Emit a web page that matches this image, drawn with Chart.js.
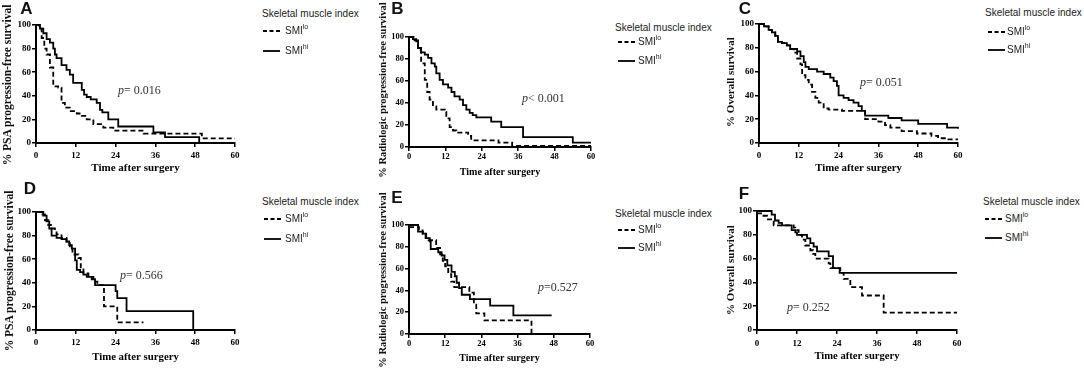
<!DOCTYPE html>
<html><head><meta charset="utf-8">
<script src="https://cdn.jsdelivr.net/npm/chart.js@4/dist/chart.umd.min.js"></script>
<style>
html,body{margin:0;padding:0;background:#fff;width:1084px;height:368px;overflow:hidden;position:relative;}
canvas{position:absolute;}
.t{position:absolute;white-space:nowrap;line-height:1;}
.letter{font:bold 17px "Liberation Sans",Arial,sans-serif;color:#111;transform:translate(-50%,-50%);}
.ytitle{font-family:"Liberation Serif","Times New Roman",serif;font-weight:bold;color:#111;transform:translate(-50%,-50%) rotate(-90deg);}
.pval{font:12px "Liberation Serif","Times New Roman",serif;color:#333;transform:translateY(-50%);}
.lg{font:10px "Liberation Sans",Arial,sans-serif;color:#222;transform:translateY(-50%);}
.lg sup{font-size:7px;vertical-align:5px;line-height:0;}
svg{position:absolute;overflow:visible;}
</style></head>
<body>
<script>
// ---- data ----
const xTicks = [0, 12, 24, 36, 48, 60];
const yTicks = [0, 20, 40, 60, 80, 100];
const xTitle = 'Time after surgery';
const legendTitle = 'Skeletal muscle index';
const groupLabels = ['lo', 'hi'];
const panelLetters = ['A', 'B', 'C', 'D', 'E', 'F'];
const yTitles = ['% PSA progression-free survival', '% Radiologic progression-free survival', '% Overall survival',
                 '% PSA progression-free survival', '% Radiologic progression-free survival', '% Overall survival'];
const pTexts = ['= 0.016', '< 0.001', '= 0.051', '= 0.566', '=0.527', '= 0.252'];

// Kaplan-Meier steps: [time (months), survival %]
const aLo = [[0,100],[1,97],[1.7,89],[2.5,80],[3.2,75],[4.2,64],[5.2,48],[6.7,47],[7.7,34],[8.7,30],[10.2,27],[12.3,25],[13.8,23],[15.3,20],[17.3,16],[20.3,13],[23.3,10.5],[32.4,8],[50,4],[60,4]];
const aHi = [[0,100],[1.2,97],[2.2,93],[3.2,88],[4.2,85],[5.2,80],[5.7,75],[6.2,72],[7.7,66],[9.2,62],[10.2,58],[11.2,51],[13.8,45],[14.5,41],[15.3,39],[16.5,37],[18.3,34],[19.3,28],[20,26],[21.8,20],[24.8,14],[35.4,9],[38.9,5],[49.2,0]];
const bLo = [[0,100],[1.5,97],[3,88],[4,76],[5.2,61],[6,50],[6.8,43],[7.9,37],[9,34],[11.8,32],[12.3,26],[13.4,18],[14.5,15],[15.6,13],[19.5,10],[20.5,6],[29.5,4],[34,1],[60,1]];
const bHi = [[0,100],[1.3,98],[2.4,96],[3,90],[4,86],[5.2,84],[6.3,81],[7.4,76],[8.5,73],[9,67],[10.1,61],[11.2,57],[12.9,54],[14,50],[15,46],[16.7,43],[17.8,38],[18.9,34],[20,31],[21,29],[22.2,27],[27.1,23],[30.4,18],[37.6,9],[54,4],[60,4]];
const cLo = [[0,100],[1.5,98],[2.9,95],[3.9,93],[4.9,90],[5.7,85],[6.9,84],[8.4,82],[9.4,79],[10.5,76],[11.5,71],[12.5,66],[13,57],[14,53],[15,49],[16,43],[17,38],[18,34],[19.5,29],[21,28],[25,27],[32,20],[36,18],[38,15],[39.6,13],[43,10],[47.6,8],[52,6],[54,4],[56.7,3],[60,3]];
const cHi = [[0,100],[1.5,98],[2.9,95],[3.9,93],[4.9,90],[5.7,85],[6.9,84],[8.4,82],[9.4,79],[11.5,77],[12.5,73],[13.5,68],[14,64],[15,62],[17.5,60],[19.5,58],[21.5,55],[22.5,52],[23.5,48],[24,40],[25.5,38],[27,36],[28.5,34],[30,31],[31,27],[32,23],[39,21],[43,19],[48,16],[56.7,13],[60,12]];
const dLo = [[0,100],[1.2,98],[2.7,93],[3.7,89],[4.5,86],[5.7,84],[6.2,81],[7.7,78],[9.2,75],[10.2,69],[11,64],[12.8,61],[13.5,53],[14.3,48],[15.8,45],[17.3,41],[18.5,38],[20.5,20],[24.5,6.5],[32.4,6.5]];
const dHi = [[0,100],[2.2,97],[3.2,92],[4,86],[4.7,80],[6.2,78],[7.7,77],[9.2,75],[10,72],[10.8,69],[11.8,59],[12.3,51],[13.3,49],[14.3,47],[15.3,45],[16.8,43],[17.8,38],[24,33],[24.5,27],[27.3,16],[47.4,0]];
const eLo = [[0,98],[3.3,96],[4.5,91],[5.5,88],[6.5,86],[9,79],[10.3,73],[11.2,67],[12,62],[13,55],[14,48],[15,43],[20,38],[21.5,27],[22.3,19],[25,12.5],[40.6,0]];
const eHi = [[0,100],[3,94],[4.6,92],[5.7,88],[6.9,85],[7.2,78],[9.7,75],[10.8,72],[11.8,68],[12.7,63],[14.1,57],[15.2,53],[15.8,47],[16.6,42],[17.5,36],[20.2,32],[26.9,26],[34.6,17],[47.3,17]];
const fLo = [[0,98],[1.5,96],[3,93],[5,88],[11,86],[11.5,84],[12.5,80],[13.5,76],[14.5,71],[16,67],[16.8,64],[17.5,60],[21.5,56],[22,52],[25,48],[26,43],[28,36],[31.5,29],[38,14.6],[60,14.6]];
const fHi = [[0,100],[4.4,97],[5.4,92],[6.5,90],[7.5,88],[10.4,84],[11.5,82],[12,80],[15,77],[16,73],[17,70],[18,66],[21.5,62],[22.8,52],[24.8,48],[60,48]];
const seriesLo = [aLo, bLo, cLo, dLo, eLo, fLo];
const seriesHi = [aHi, bHi, cHi, dHi, eHi, fHi];

// ---- layout (positions / styles only) ----
const L = [
 {cl:0,   ct:12,  cw:247, ch:163, yw:36, xh:32, pt:13, pr:12, tp:3, tick:9,  xt:11,   yt:11.5, ytx:8,   yty:85,
  letter:[26.5,9],  p:[118,90],  lg:{x:262,ty:13,  y1:31, y2:51, lx:263, tx:285}},
 {cl:376, ct:27,  cw:225, ch:151, yw:33, xh:31, pt:10, pr:10, tp:1, tick:8.5,xt:10,   yt:10.5, ytx:383, yty:90,
  letter:[397.5,9], p:[522,98],  lg:{x:615,ty:27,  y1:42, y2:61, lx:618, tx:638}},
 {cl:724, ct:12,  cw:244, ch:163, yw:35, xh:32, pt:12, pr:10, tp:3, tick:9,  xt:10.8, yt:11,   ytx:730, yty:82,
  letter:[745,8.5], p:[860,82],  lg:{x:985,ty:12,  y1:32, y2:50, lx:988, tx:1007}},
 {cl:0,   ct:200, cw:245, ch:164, yw:36, xh:34, pt:12, pr:10, tp:3, tick:9,  xt:10.8, yt:11.5, ytx:10,  yty:271,
  letter:[30,188.5],p:[120,275], lg:{x:262,ty:201, y1:219,y2:239,lx:264, tx:285}},
 {cl:376, ct:213, cw:224, ch:151, yw:33, xh:30, pt:12, pr:10, tp:1, tick:8.5,xt:10,   yt:10.5, ytx:383, yty:280,
  letter:[397,198], p:[538,287], lg:{x:615,ty:213, y1:230,y2:248,lx:618, tx:638}},
 {cl:724, ct:199, cw:243, ch:164, yw:33, xh:33, pt:12, pr:10, tp:4, tick:9,  xt:10.6, yt:11,   ytx:730, yty:270,
  letter:[744,194], p:[787,307], lg:{x:983,ty:201, y1:219,y2:238,lx:985, tx:1005}}
];

const serif = '"Liberation Serif","Times New Roman",serif';
function addDiv(cls, html, x, y, extra) {
  const d = document.createElement('div');
  d.className = 't ' + cls; d.innerHTML = html;
  d.style.left = x + 'px'; d.style.top = y + 'px';
  if (extra) Object.assign(d.style, extra);
  document.body.appendChild(d); return d;
}
function legendLine(x, y, dashed) {
  const ns = 'http://www.w3.org/2000/svg';
  const s = document.createElementNS(ns, 'svg');
  s.setAttribute('width', 18); s.setAttribute('height', 4);
  s.style.left = x + 'px'; s.style.top = (y - 2) + 'px';
  const l = document.createElementNS(ns, 'line');
  l.setAttribute('x1', 0); l.setAttribute('x2', 17); l.setAttribute('y1', 2); l.setAttribute('y2', 2);
  l.setAttribute('stroke', '#000'); l.setAttribute('stroke-width', 1.8);
  if (dashed) l.setAttribute('stroke-dasharray', '4,2.5');
  s.appendChild(l); document.body.appendChild(s);
}

L.forEach((c, i) => {
  const cv = document.createElement('canvas');
  cv.width = c.cw; cv.height = c.ch;
  cv.style.left = c.cl + 'px'; cv.style.top = c.ct + 'px';
  document.body.appendChild(cv);
  const tickFont = {family: serif, weight: 'bold', size: c.tick};
  const gridCfg = {display: true, drawOnChartArea: false, drawTicks: true, tickLength: 4, color: '#000', lineWidth: 1.5};
  const mk = (pts, dashed) => ({
    data: pts.map(([x, y]) => ({x, y})),
    borderColor: '#000', borderWidth: 1.8, borderDash: dashed ? [5, 3] : [],
    stepped: true, pointRadius: 0, fill: false, clip: 4, tension: 0
  });
  new Chart(cv, {
    type: 'line',
    data: {datasets: [mk(seriesLo[i], true), mk(seriesHi[i], false)]},
    options: {
      responsive: false, animation: false, devicePixelRatio: 1,
      layout: {padding: {top: c.pt, right: c.pr, left: 0, bottom: 0}},
      plugins: {legend: {display: false}, tooltip: {enabled: false}},
      scales: {
        x: {type: 'linear', min: 0, max: 60,
          afterBuildTicks: s => { s.ticks = xTicks.map(v => ({value: v})); },
          afterFit: s => { s.height = c.xh; },
          ticks: {font: tickFont, color: '#000', padding: c.tp, maxRotation: 0, autoSkip: false},
          grid: gridCfg, border: {display: true, color: '#000', width: 2},
          title: {display: true, text: xTitle, color: '#000', padding: 0,
                  font: {family: serif, weight: 'bold', size: c.xt}}},
        y: {type: 'linear', min: 0, max: 100,
          afterBuildTicks: s => { s.ticks = yTicks.map(v => ({value: v})); },
          afterFit: s => { s.width = c.yw; },
          ticks: {font: tickFont, color: '#000', padding: 1},
          grid: gridCfg, border: {display: true, color: '#000', width: 2}}
      }
    }
  });
  addDiv('ytitle', yTitles[i], c.ytx, c.yty, {fontSize: c.yt + 'px'});
  addDiv('letter', panelLetters[i], c.letter[0], c.letter[1]);
  addDiv('pval', '<i>p</i>' + pTexts[i], c.p[0], c.p[1]);
  addDiv('lg', legendTitle, c.lg.x, c.lg.ty);
  legendLine(c.lg.lx, c.lg.y1, true);
  legendLine(c.lg.lx, c.lg.y2, false);
  addDiv('lg', 'SMI<sup>' + groupLabels[0] + '</sup>', c.lg.tx, c.lg.y1 - 1);
  addDiv('lg', 'SMI<sup>' + groupLabels[1] + '</sup>', c.lg.tx, c.lg.y2 - 1);
});
</script>
</body></html>
